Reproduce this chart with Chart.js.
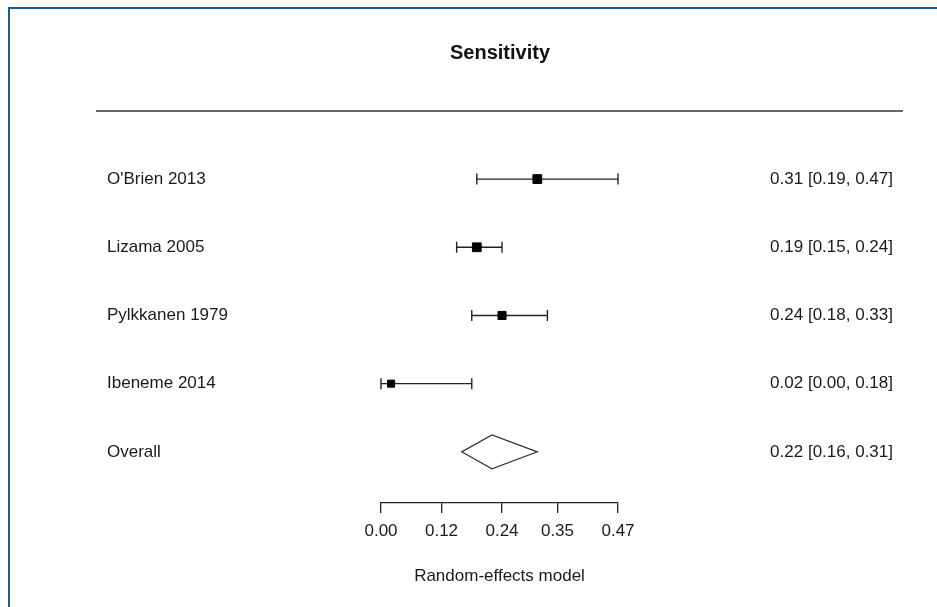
<!DOCTYPE html>
<html>
<head>
<meta charset="utf-8">
<title>Sensitivity</title>
<script src="https://cdn.jsdelivr.net/npm/chart.js@4.4.1/dist/chart.umd.min.js"></script>
<style>
    html, body { margin: 0; padding: 0; background: #fff; }
    #wrap { position: relative; width: 937px; height: 607px; }
</style>
</head>
<body>
<div id="wrap"><canvas id="forestChart" width="937" height="607"></canvas></div>
<script>
// study rows (top to bottom)
var studies = ["O'Brien 2013", 'Lizama 2005', 'Pylkkanen 1979', 'Ibeneme 2014'];
var estimates = [0.31, 0.19, 0.24, 0.02];
var lowerCI = [0.19, 0.15, 0.18, 0.00];
var upperCI = [0.47, 0.24, 0.33, 0.18];

// pooled estimate
var overallLabel = 'Overall';
var overallEst = 0.22;
var overallLower = 0.16;
var overallUpper = 0.31;

// x axis
var tickValues = [0, 0.12, 0.24, 0.35, 0.47];
var tickLabels = ['0.00', '0.12', '0.24', '0.35', '0.47'];

document.addEventListener('DOMContentLoaded', function () {
    var textColor = '#1a1a1a';
    var lineColor = '#222';
    Chart.defaults.font.family = '"Liberation Sans", Arial, sans-serif';
    Chart.defaults.font.size = 17;
    Chart.defaults.color = textColor;

    var rowLabels = studies.concat([overallLabel]);
    var rowEst = estimates.concat([overallEst]);
    var rowLo = lowerCI.concat([overallLower]);
    var rowHi = upperCI.concat([overallUpper]);
    var rowText = rowLabels.map(function (_, i) {
        return rowEst[i].toFixed(2) + ' [' + rowLo[i].toFixed(2) + ', ' + rowHi[i].toFixed(2) + ']';
    });
    function rowY(i) { return rowLabels.length - i; }
    function rowTicks(scale) {
        scale.ticks = rowLabels.map(function (_, i) { return { value: rowY(i) }; });
    }

    // box sizes roughly follow study weight
    var boxRadius = [6.2, 6.2, 5.7, 5];

    var datasets = [{
        label: 'Estimate',
        data: studies.map(function (_, i) { return { x: estimates[i], y: rowY(i) }; }),
        pointStyle: 'rect',
        pointRadius: boxRadius,
        backgroundColor: '#000',
        borderColor: '#000',
        showLine: false,
        clip: false
    }];
    studies.forEach(function (name, i) {
        datasets.push({
            label: name,
            data: [{ x: lowerCI[i], y: rowY(i) }, { x: upperCI[i], y: rowY(i) }],
            showLine: true,
            borderColor: lineColor,
            borderWidth: 1.4,
            pointStyle: 'line',
            pointRotation: 90,
            pointRadius: 5.5,
            pointBorderColor: lineColor,
            pointBorderWidth: 1.4,
            clip: false
        });
    });

    var decorations = {
        id: 'decorations',
        afterDatasetsDraw: function (chart) {
            var ctx = chart.ctx;
            var x = chart.scales.x, y = chart.scales.y;
            var cy = y.getPixelForValue(rowY(studies.length));
            var half = 17;
            ctx.save();
            ctx.beginPath();
            ctx.moveTo(x.getPixelForValue(overallLower), cy);
            ctx.lineTo(x.getPixelForValue(overallEst), cy - half);
            ctx.lineTo(x.getPixelForValue(overallUpper), cy);
            ctx.lineTo(x.getPixelForValue(overallEst), cy + half);
            ctx.closePath();
            ctx.strokeStyle = '#333';
            ctx.lineWidth = 1.2;
            ctx.stroke();
            ctx.restore();
        },
        afterDraw: function (chart) {
            var ctx = chart.ctx;
            ctx.save();
            // header rule
            ctx.fillStyle = '#666';
            ctx.fillRect(96, 110, 807, 2);
            // frame of the screenshot
            ctx.fillStyle = '#1f5a96';
            ctx.fillRect(8, 7, 2, 600);
            ctx.fillRect(8, 7, 929, 2);
            ctx.restore();
        }
    };

    var ctx = document.getElementById('forestChart').getContext('2d');
    var forestChart = new Chart(ctx, {
        type: 'scatter',
        data: { datasets: datasets },
        plugins: [decorations],
        options: {
            responsive: false,
            animation: false,
            events: [],
            layout: { padding: { left: 107, right: 44, top: 0, bottom: 0 } },
            plugins: {
                legend: { display: false },
                tooltip: { enabled: false },
                title: {
                    display: true,
                    text: 'Sensitivity',
                    color: '#111',
                    font: { size: 20, weight: 'bold' },
                    padding: { top: 41, bottom: 80 }
                }
            },
            scales: {
                x: {
                    type: 'linear',
                    min: 0,
                    max: 0.47,
                    afterBuildTicks: function (scale) {
                        scale.ticks = tickValues.map(function (v) { return { value: v }; });
                    },
                    afterFit: function (scale) { scale.height = 104; },
                    grid: { drawOnChartArea: false, drawTicks: true, tickLength: 10, color: lineColor, lineWidth: 1.3 },
                    border: { display: true, color: lineColor, width: 1.3 },
                    ticks: {
                        autoSkip: false,
                        maxRotation: 0,
                        padding: 8,
                        callback: function (value, index) { return tickLabels[index]; }
                    },
                    title: {
                        display: true,
                        text: 'Random-effects model',
                        padding: { top: 0, bottom: 20 }
                    }
                },
                y: {
                    type: 'linear',
                    position: 'left',
                    min: 0.25,
                    max: 5.5,
                    afterBuildTicks: rowTicks,
                    afterFit: function (scale) { scale.width = 274; },
                    grid: { display: false },
                    border: { display: false },
                    ticks: {
                        autoSkip: false,
                        crossAlign: 'far',
                        padding: 0,
                        callback: function (value, index) { return rowLabels[index]; }
                    }
                },
                y2: {
                    type: 'linear',
                    position: 'right',
                    min: 0.25,
                    max: 5.5,
                    afterBuildTicks: rowTicks,
                    afterFit: function (scale) { scale.width = 275; },
                    grid: { display: false },
                    border: { display: false },
                    ticks: {
                        autoSkip: false,
                        crossAlign: 'far',
                        padding: 0,
                        callback: function (value, index) { return rowText[index]; }
                    }
                }
            }
        }
    });
});
</script>
</body>
</html>
